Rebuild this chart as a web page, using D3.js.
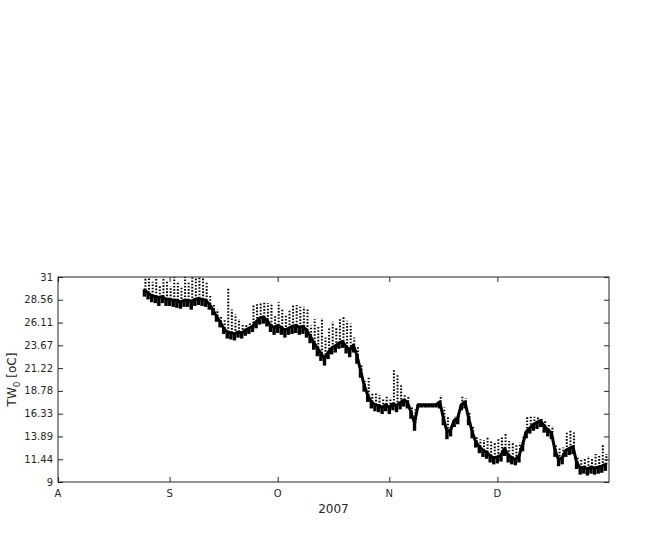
<!DOCTYPE html>
<head>
  <meta charset="utf-8" />
  <script src="https://d3js.org/d3.v7.min.js"></script>
  <style>
    body {
      background-color: #ffffff;
      margin: 0;
    }
    text {
      font-family: "DejaVu Sans", sans-serif;
      fill: #262626;
    }
  </style>
</head>

<body>
  <script>
    // daily readings, first day = 25 Aug 2007
    var startDay = new Date(2007, 7, 25);
    // centre of the dense band
    var base = [
      29.6, 29.3, 29.0, 28.9, 28.8, 28.9, 28.6, 28.6, 28.5, 28.5,
      28.3, 28.5, 28.5, 28.4, 28.6, 28.7, 28.6, 28.5, 28.1, 27.5,
      26.8, 26.2, 25.5, 25.1, 25.0, 24.9, 25.1, 25.0, 25.3, 25.5,
      25.7, 26.2, 26.6, 26.7, 26.4, 25.8, 25.6, 25.8, 25.6, 25.3,
      25.5, 25.7, 25.8, 25.6, 25.7, 25.3, 24.7, 24.0, 23.4, 22.8,
      22.3, 22.9, 23.4, 23.6, 23.9, 24.1, 23.5, 23.2, 23.7, 22.6,
      21.0, 19.4, 18.3, 17.6, 17.3, 17.2, 17.0, 17.3, 17.0, 17.4,
      17.2, 17.5, 17.8, 17.6, 16.5, 15.3, 17.3, 17.3, 17.3, 17.3,
      17.3, 17.3, 17.6, 15.9, 14.4, 14.6, 15.6, 15.9, 17.3, 17.6,
      15.9, 14.4, 13.3, 12.8, 12.4, 12.2, 11.8, 11.6, 11.7, 11.9,
      12.6, 11.9, 11.6, 11.4, 11.8, 13.0, 14.4, 14.8, 15.2, 15.4,
      15.6, 15.0, 14.6, 14.3, 12.4, 11.4, 11.6, 12.4, 12.6, 12.8,
      11.1, 10.5, 10.6, 10.4, 10.6, 10.5, 10.6, 10.7, 10.9
    ];
    // lower edge of the band (night minima)
    var low = [
      29.0, 28.7, 28.4, 28.3, 28.0, 28.3,
      28.0, 28.0, 27.9, 27.8, 27.7, 27.9, 27.9, 27.6, 28.0, 28.1, 28.0, 27.9,
      27.6, 27.0, 26.3, 25.7, 25.0,
      24.5, 24.4, 24.3, 24.6, 24.5, 24.8, 25.0,
      25.2, 25.6, 26.0, 26.1, 25.8, 25.2, 24.9,
      25.1, 24.9, 24.6, 24.9, 25.0, 25.1, 24.9, 25.0, 24.6, 24.0,
      23.3, 22.6, 22.1, 21.6, 22.3, 22.8, 23.0, 23.4, 23.5, 22.9, 22.5, 23.0, 21.8,
      20.3, 18.8, 17.7, 17.0, 16.7, 16.6, 16.4, 16.7, 16.4, 16.8, 16.6, 16.9, 17.2, 17.0, 15.9, 14.6,
      17.1, 17.1, 17.1, 17.1, 17.1, 17.1,
      17.0, 15.2, 13.7, 14.0, 15.0, 15.3, 16.8, 17.0, 15.2, 13.8,
      12.8, 12.2, 11.8, 11.6, 11.2, 11.0, 11.1, 11.3, 11.9, 11.2, 11.0, 10.9, 11.2,
      12.4, 13.8, 14.3, 14.6, 14.8, 15.0, 14.4, 14.0, 13.7, 11.8, 10.8, 11.0, 11.8, 12.0, 12.1,
      10.5, 9.9, 10.0, 9.8, 10.0, 9.9, 10.0, 10.1, 10.3
    ];
    // daily maxima (daytime spikes)
    var high = [
      31.0, 31.0, 30.5, 31.0, 30.0, 31.0, 30.5, 30.0, 31.0, 30.5,
      30.0, 31.0, 30.5, 31.0, 31.0, 31.0, 31.0, 30.5, 29.0, 28.0,
      27.5, 26.8, 26.5, 29.8, 27.5, 27.0, 26.5, 26.0, 25.9, 26.2,
      28.0, 28.2, 28.3, 28.3, 28.2, 28.2, 26.8, 28.3, 27.5, 27.0,
      27.5, 28.0, 28.0, 27.8, 27.8, 27.5, 25.8, 26.5, 25.8, 26.6,
      24.5, 25.5, 26.2, 25.5, 26.5, 26.8, 26.3, 26.0, 24.5, 23.5,
      21.5, 19.8, 20.3, 18.5, 18.5, 18.3, 18.0, 18.3, 18.0, 21.0,
      20.5, 19.5, 18.5, 18.2, 17.0, 16.8, 17.3, 17.3, 17.3, 17.3,
      17.3, 17.3, 18.3, 17.0, 16.0, 15.0, 16.0, 16.5, 18.3, 18.0,
      16.5, 15.0, 13.8, 13.6, 13.5, 13.9, 13.5, 13.2, 13.6, 13.9,
      14.3, 13.4, 13.2, 13.0, 13.2, 14.0, 16.0, 16.0, 16.0, 16.0,
      15.9, 15.6, 15.2, 15.0, 13.0, 12.7, 12.7, 14.3, 14.5, 14.3,
      11.8, 11.5, 11.6, 11.8, 11.5, 12.0, 11.9, 13.0, 12.0
    ];
    var yTicks = [9, 11.44, 13.89, 16.33, 18.78, 21.22, 23.67, 26.11, 28.56, 31];
    var monthTicks = [
      new Date(2007, 7, 1), new Date(2007, 8, 1), new Date(2007, 9, 1),
      new Date(2007, 10, 1), new Date(2007, 11, 1)
    ];
    var monthLabels = ["A", "S", "O", "N", "D"];

    var W = 652, H = 540;
    var margin = { top: 277, right: 43, bottom: 58, left: 58 },
      width = W - margin.left - margin.right,
      height = H - margin.top - margin.bottom;

    var svg = d3
      .select("body")
      .append("svg")
      .attr("width", W)
      .attr("height", H)
      .append("g")
      .attr("transform", "translate(" + margin.left + "," + margin.top + ")");

    var x = d3
      .scaleTime()
      .domain([new Date(2007, 7, 1), new Date(2008, 0, 1)])
      .range([0, width]);
    var y = d3.scaleLinear().domain([9, 31]).range([height, 0]);

    var days = base.map((d, i) => d3.timeDay.offset(startDay, i));

    svg
      .append("clipPath")
      .attr("id", "plotclip")
      .append("rect")
      .attr("width", width)
      .attr("height", height);

    var g = svg.append("g").attr("clip-path", "url(#plotclip)");

    // dotted spikes from the band up to the daily maximum
    g.selectAll("line.spike")
      .data(days)
      .enter()
      .append("line")
      .attr("class", "spike")
      .attr("x1", d => x(d) + 1)
      .attr("x2", d => x(d) + 1)
      .attr("y1", (d, i) => y(base[i]))
      .attr("y2", (d, i) => y(high[i]))
      .attr("stroke", "#000")
      .attr("stroke-width", 2)
      .attr("stroke-dasharray", "1.6,1.6");

    // dense band: night minimum up to band centre
    g.selectAll("line.band")
      .data(days)
      .enter()
      .append("line")
      .attr("class", "band")
      .attr("x1", d => x(d))
      .attr("x2", d => x(d))
      .attr("y1", (d, i) => y(low[i]) + 1)
      .attr("y2", (d, i) => y(base[i]))
      .attr("stroke", "#000")
      .attr("stroke-width", 3.4);

    var line = d3
      .line()
      .x((d, i) => x(days[i]))
      .y(d => y(d));

    g.append("path")
      .datum(base)
      .attr("d", line)
      .attr("fill", "none")
      .attr("stroke", "#000")
      .attr("stroke-width", 3)
      .attr("stroke-linejoin", "round")
      .attr("stroke-linecap", "round");

    // axes box with inward ticks
    svg
      .append("rect")
      .attr("width", width)
      .attr("height", height)
      .attr("fill", "none")
      .attr("stroke", "#262626")
      .attr("stroke-width", 1);

    var xb = d3.axisBottom(x).tickValues(monthTicks).tickSize(-5).tickFormat("");
    var xt = d3.axisTop(x).tickValues(monthTicks).tickSize(-5).tickFormat("");
    var yl = d3.axisLeft(y).tickValues(yTicks).tickSize(-5).tickFormat("");
    var yr = d3.axisRight(y).tickValues(yTicks).tickSize(-5).tickFormat("");

    [
      [xb, "translate(0," + height + ")"],
      [xt, "translate(0,0)"],
      [yl, "translate(0,0)"],
      [yr, "translate(" + width + ",0)"]
    ].forEach(a => {
      var ax = svg.append("g").attr("transform", a[1]).call(a[0]);
      ax.select(".domain").remove();
      ax.selectAll("line").attr("stroke", "#262626");
    });

    // tick labels
    svg
      .selectAll("text.ylab")
      .data(yTicks)
      .enter()
      .append("text")
      .attr("class", "ylab")
      .attr("x", -5)
      .attr("y", d => y(d))
      .attr("dy", "0.35em")
      .attr("text-anchor", "end")
      .attr("font-size", 10)
      .text(d => d);

    svg
      .selectAll("text.xlab")
      .data(monthTicks)
      .enter()
      .append("text")
      .attr("class", "xlab")
      .attr("x", d => x(d))
      .attr("y", height + 15)
      .attr("text-anchor", "middle")
      .attr("font-size", 10)
      .text((d, i) => monthLabels[i]);

    svg
      .append("text")
      .attr("x", width / 2)
      .attr("y", height + 31)
      .attr("text-anchor", "middle")
      .attr("font-size", 12)
      .text("2007");

    var yt = svg
      .append("text")
      .attr("transform", "translate(-42," + height / 2 + ") rotate(-90)")
      .attr("text-anchor", "middle")
      .attr("font-size", 12);
    yt.append("tspan").text("TW");
    yt.append("tspan").attr("font-size", 9).attr("dy", 4).text("0");
    yt.append("tspan").attr("dy", -4).text(" [oC]");
  </script>
</body>
